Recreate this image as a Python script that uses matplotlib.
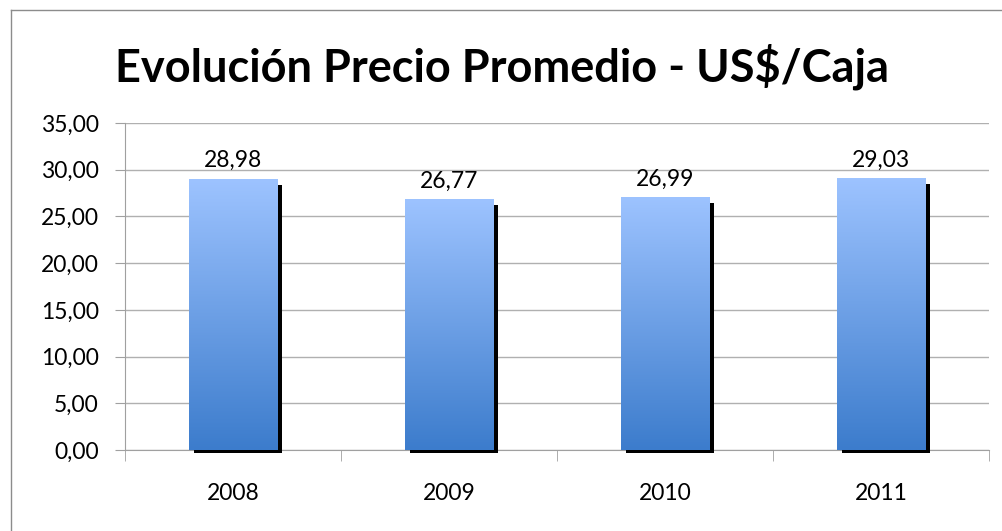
import numpy as np
import matplotlib
matplotlib.use("Agg")
import matplotlib.pyplot as plt
import matplotlib.transforms as mtransforms
from matplotlib.colors import LinearSegmentedColormap
from matplotlib.patches import Rectangle

years = ["2008", "2009", "2010", "2011"]
values = [28.98, 26.77, 26.99, 29.03]
labels = ["28,98", "26,77", "26,99", "29,03"]
yticks = [0, 5, 10, 15, 20, 25, 30, 35]
ytick_labels = ["0,00", "5,00", "10,00", "15,00", "20,00", "25,00", "30,00", "35,00"]
title = "Evolución Precio Promedio - US$/Caja"

plt.rcParams['font.family'] = ['Lato', 'DejaVu Sans']

fig = plt.figure(figsize=(10.03, 5.31), dpi=100)
ax = fig.add_axes([125/1003, 1-450/531, (989-125)/1003, (450-123)/531])

# outer frame (left and top visible)
fig.add_artist(plt.Line2D([11/1003, 11/1003], [0, 1-10/531], transform=fig.transFigure, color='#8c8c8c', lw=1))
fig.add_artist(plt.Line2D([11/1003, 1], [1-10/531, 1-10/531], transform=fig.transFigure, color='#8c8c8c', lw=1))

x = np.arange(len(years))
w = 0.41
cmap = LinearSegmentedColormap.from_list("g", ["#3c7ccc", "#9dc3ff"])
grad = np.linspace(0, 1, 256).reshape(-1, 1)

shadow_tr = ax.transData + mtransforms.ScaledTranslation(5/100, -3/100, fig.dpi_scale_trans)
for xi, v in zip(x, values):
    ax.add_patch(Rectangle((xi - w/2, 0), w, v - 0.25, facecolor='black', edgecolor='none',
                           transform=shadow_tr, zorder=2, clip_on=False))
    ax.imshow(grad, extent=[xi - w/2, xi + w/2, 0, v], origin='lower', cmap=cmap,
              aspect='auto', zorder=3, interpolation='bilinear')

for xi, v, lab in zip(x, values, labels):
    ax.annotate(lab, (xi, v), xytext=(0, 6), textcoords='offset points', ha='center',
                va='bottom', fontsize=16.5, color='black', zorder=5)

ax.set_xlim(-0.5, 3.5)
ax.set_ylim(0, 35)
ax.set_yticks(yticks)
ax.set_yticklabels(ytick_labels, fontsize=16.5)
ax.set_xticks(x)
ax.set_xticklabels(years, fontsize=16.5)
ax.set_xticks(np.arange(-0.5, 4.0, 1.0), minor=True)
ax.tick_params(axis='x', which='major', length=0, pad=24)
ax.tick_params(axis='x', which='minor', length=8, color='#a0a0a0', direction='out')
ax.tick_params(axis='y', length=7, color='#a0a0a0', direction='out', pad=12)
ax.yaxis.grid(True, color='#b0b0b0', lw=1)
ax.set_axisbelow(True)
for s in ['top', 'right']:
    ax.spines[s].set_visible(False)
for s in ['left', 'bottom']:
    ax.spines[s].set_color('#a0a0a0')
ax.spines['bottom'].set_zorder(1)

fig.text(502/1003, 1-67/531, title, ha='center', va='center', fontsize=32.5, fontweight='bold')

fig.savefig("out.png", dpi=100)
